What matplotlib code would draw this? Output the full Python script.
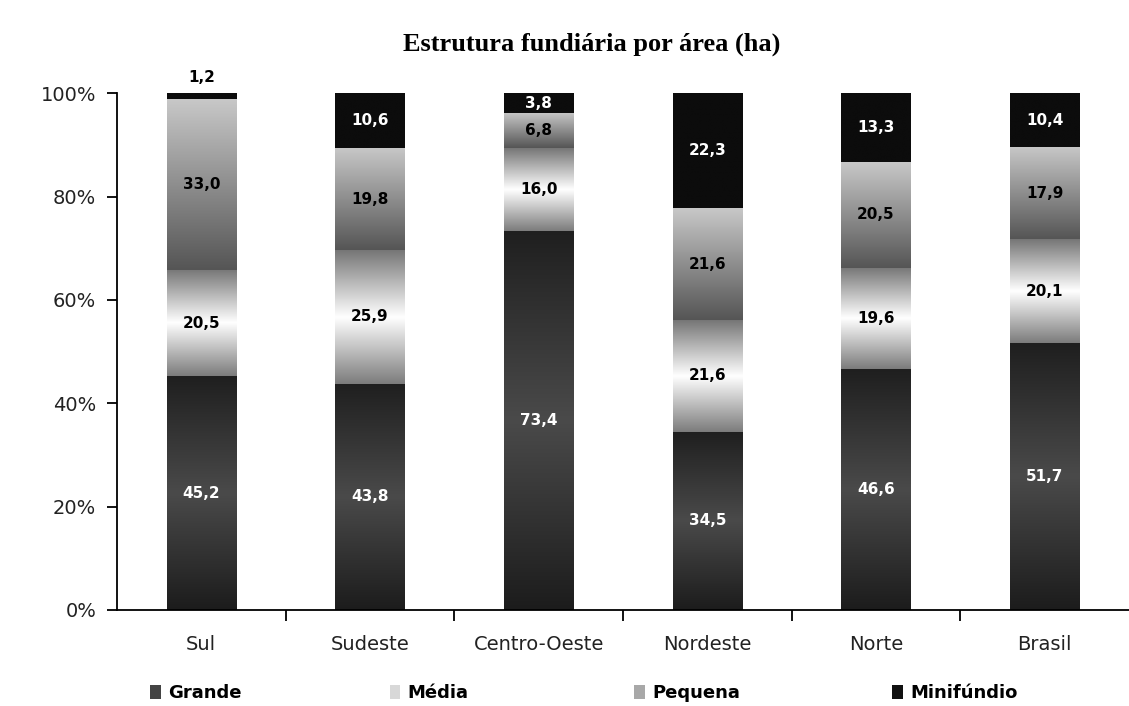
import numpy as np
import matplotlib
matplotlib.use("Agg")
from matplotlib import pyplot as plt
from matplotlib.colors import LinearSegmentedColormap
from matplotlib.patches import Patch

regioes = ["Sul", "Sudeste", "Centro-Oeste", "Nordeste", "Norte", "Brasil"]
grande = [45.2, 43.8, 73.4, 34.5, 46.6, 51.7]
media = [20.5, 25.9, 16.0, 21.6, 19.6, 20.1]
pequena = [33.0, 19.8, 6.8, 21.6, 20.5, 17.9]
minifundio = [1.2, 10.6, 3.8, 22.3, 13.3, 10.4]
series_names = ["Grande", "Média", "Pequena", "Minifúndio"]
y_ticks = [0, 20, 40, 60, 80, 100]

# gradientes (de baixo para cima) de cada classe
cmaps = [
    LinearSegmentedColormap.from_list("g", ["#1c1c1c", "#4a4a4a", "#1f1f1f"]),
    LinearSegmentedColormap.from_list("m", ["#7c7c7c", "#ffffff", "#767676"]),
    LinearSegmentedColormap.from_list("p", ["#555555", "#8e8e8e", "#c8c8c8"]),
    LinearSegmentedColormap.from_list("n", ["#0c0c0c", "#0c0c0c"]),
]
label_colors = ["white", "black", "black", "white"]

data = np.array([grande, media, pequena, minifundio])
totals = data.sum(axis=0)
pct = data / totals * 100

fig = plt.figure(figsize=(11.29, 7.06), dpi=100)
ax = fig.add_axes([0.1036, 0.136, 0.8964, 0.732])

x = np.arange(len(regioes))
bottom = np.zeros(len(regioes))
grad = np.linspace(0, 1, 256).reshape(-1, 1)
for i, vals in enumerate(pct):
    bars = ax.bar(x, vals, bottom=bottom, width=0.41, color="none",
                  edgecolor="none", linewidth=0)
    for j, patch in enumerate(bars):
        x0, y0 = patch.get_x(), patch.get_y()
        w, h = patch.get_width(), patch.get_height()
        im = ax.imshow(grad, extent=[x0, x0 + w, y0, y0 + h], origin="lower",
                       aspect="auto", cmap=cmaps[i], vmin=0, vmax=1,
                       interpolation="bilinear", zorder=2)
        im.set_clip_path(patch)
        txt = f"{data[i, j]:.1f}".replace(".", ",")
        if i == 3 and h < 3:
            ax.text(x0 + w / 2, y0 + h + 1.5, txt, ha="center", va="bottom",
                    fontsize=11, fontweight="bold", color="black", zorder=3)
        else:
            ax.text(x0 + w / 2, y0 + h / 2, txt, ha="center", va="center",
                    fontsize=11, fontweight="bold", color=label_colors[i],
                    zorder=3)
    bottom += vals

ax.set_xlim(-0.5, len(regioes) - 0.5)
ax.set_ylim(0, 100)
ax.set_yticks(y_ticks)
ax.set_yticklabels([f"{v}%" for v in y_ticks], fontsize=14, color="#222222")
ax.set_xticks(x)
ax.set_xticklabels(regioes, fontsize=14, color="#222222")
ax.set_xticks(np.arange(0.5, len(regioes) - 0.5), minor=True)
ax.tick_params(axis="x", which="major", length=0, pad=18)
ax.tick_params(axis="x", which="minor", length=8, width=1.3, direction="out")
ax.tick_params(axis="y", length=7, width=1.3, direction="out", pad=8)
for side in ["top", "right"]:
    ax.spines[side].set_visible(False)
for side in ["left", "bottom"]:
    ax.spines[side].set_linewidth(1.3)
ax.set_facecolor("none")

fig.text(0.524, 0.937, "Estrutura fundiária por área (ha)", ha="center",
         va="center", fontsize=19, fontweight="bold", family="Liberation Serif")

# legenda: um item por posição, como no original
leg_colors = ["#444444", "#d8d8d8", "#a8a8a8", "#111111"]
leg_x = [0.133, 0.345, 0.562, 0.790]
for name, c, lx in zip(series_names, leg_colors, leg_x):
    fig.legend([Patch(facecolor=c, edgecolor="none")], [name],
               loc="center left", bbox_to_anchor=(lx, 0.018), frameon=False,
               prop={"weight": "bold", "size": 13}, handlelength=0.6,
               handleheight=0.8, handletextpad=0.4, borderpad=0,
               borderaxespad=0)

fig.savefig("out.png", dpi=100)
